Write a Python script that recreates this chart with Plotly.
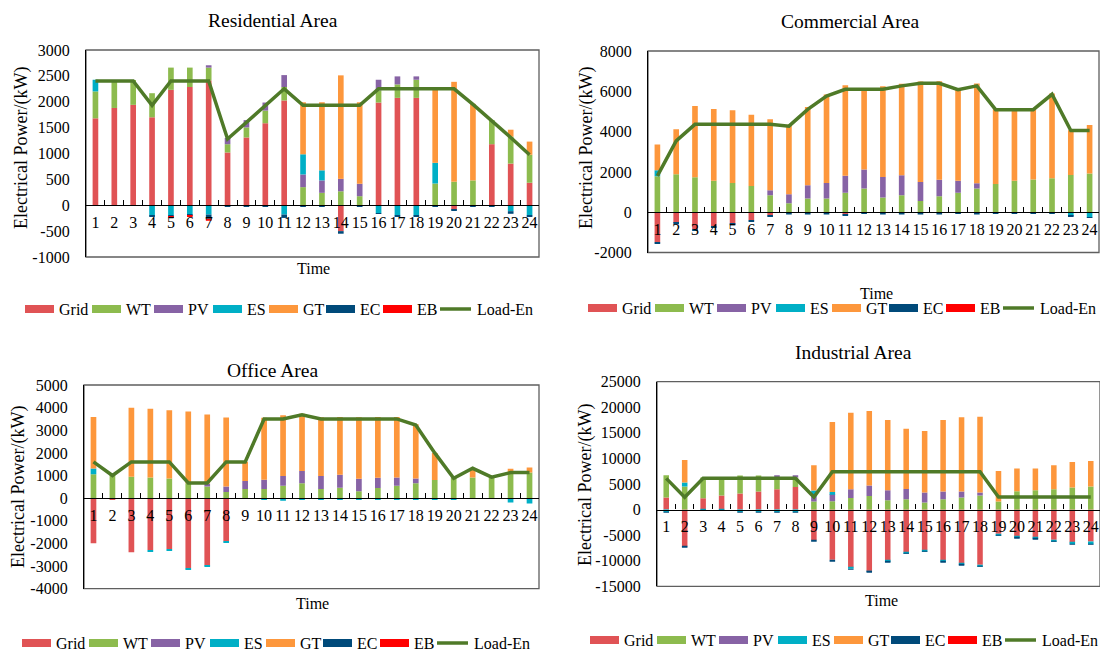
import plotly.graph_objects as go

W, H = 1100, 653

hours = [str(h) for h in range(1, 25)]
series_names = ["Grid", "WT", "PV", "ES", "GT", "EC", "EB"]
series_colors = ["#E05355", "#8DBB4E", "#8763A5", "#00AFC6", "#FD973C", "#004A7A", "#FF0000"]
load_name = "Load-En"
load_color = "#4F7A28"

# ---- Residential Area (kW) ----
res_grid = [1680, 1880, 1940, 1700, 2230, 2285, 2410, 1020, 1310, 1585, 2025, 0, 0, -500, 0, 1985, 2075, 2075, 0, -85, 0, 1180, 805, 435]
res_wt = [520, 540, 480, 465, 430, 375, 250, 160, 195, 245, 260, 350, 240, 270, 175, 235, 260, 350, 420, 455, 480, 465, 520, 540]
res_pv = [0, 0, 0, 0, 0, 0, 45, 120, 140, 155, 230, 245, 240, 240, 240, 205, 155, 65, 0, 0, 0, 0, 0, 0]
res_es = [225, 0, 0, -200, -190, -180, -180, 0, 0, 0, -180, 390, 195, 0, 0, -150, -195, -200, 400, 0, 0, 0, -115, -195]
res_gt = [0, 0, 0, 0, 0, 0, 0, 0, 0, 0, 0, 1005, 1315, 2000, 1575, 0, 0, 0, 1450, 1930, 1480, 0, 135, 255]
res_ec = [0, 0, 0, -10, -20, -20, -80, -20, -20, -20, -65, -30, -30, -50, -30, -15, -15, -10, -15, -10, -15, -25, -50, -20]
res_eb = [0, 0, 0, 0, -20, -20, -40, 0, 0, 0, 0, 0, 0, 0, 0, 0, 0, 0, 0, 0, 0, 0, 0, 0]
res_load = [2400, 2400, 2400, 1930, 2400, 2400, 2400, 1280, 1600, 1925, 2250, 1930, 1930, 1930, 1930, 2250, 2250, 2250, 2250, 2250, 1950, 1640, 1310, 975]

# ---- Commercial Area (kW) ----
com_grid = [-1490, -530, -860, -695, -580, -400, -150, 0, 0, 0, -110, 0, 0, 0, 0, 0, 0, 0, 0, 0, 0, 0, 0, 0]
com_wt = [1785, 1885, 1735, 1555, 1455, 1305, 845, 445, 680, 680, 960, 1175, 725, 845, 560, 795, 960, 1175, 1405, 1555, 1620, 1685, 1850, 1915]
com_pv = [0, 0, 0, 0, 0, 0, 250, 445, 660, 775, 845, 940, 1025, 990, 940, 810, 595, 265, 0, 0, 0, 0, 0, 0]
com_es = [300, 0, 0, 0, 0, 0, 0, 0, 0, 0, 0, 0, 0, 0, 0, 0, 0, 0, 0, 0, 0, 0, -180, -250]
com_gt = [1270, 2230, 3535, 3570, 3600, 3535, 3520, 3455, 3885, 4380, 4495, 4015, 4495, 4545, 4990, 4890, 4530, 4945, 3700, 3555, 3490, 4200, 2215, 2415]
com_ec = [-65, -65, -65, -65, -65, -65, -80, -115, -115, -115, -65, -80, -115, -115, -115, -115, -80, -115, -50, -65, -65, -80, -30, -20]
com_eb = [0] * 24
com_load = [1800, 3540, 4360, 4360, 4360, 4360, 4360, 4270, 5100, 5760, 6100, 6100, 6100, 6270, 6400, 6400, 6080, 6270, 5090, 5090, 5090, 5850, 4050, 4050]

# ---- Office Area (kW) ----
off_grid = [-1990, -60, -2390, -2290, -2250, -3100, -2970, -1900, 0, 0, -30, 0, 0, 0, 0, 0, 0, 0, 0, 0, 0, 0, 0, 0]
off_wt = [1060, 1050, 950, 910, 865, 655, 520, 270, 400, 400, 550, 655, 400, 460, 310, 445, 550, 655, 805, 910, 910, 910, 1130, 1130]
off_pv = [0, 0, 0, 0, 0, 0, 120, 240, 355, 415, 430, 550, 580, 580, 550, 460, 360, 210, 0, 0, 0, 0, 0, 0]
off_es = [250, 0, 0, -60, -60, -60, -60, -60, -20, -40, -80, -70, -40, -60, -60, -50, -40, -40, -50, -40, 0, -30, -190, -240]
off_gt = [2280, 0, 3040, 3040, 3020, 3175, 3060, 3050, 850, 2740, 2680, 2530, 2600, 2545, 2720, 2680, 2680, 2400, 1190, 0, 400, 0, 165, 225]
off_ec = [0] * 24
off_eb = [0] * 24
off_load = [1600, 1000, 1600, 1600, 1600, 670, 670, 1600, 1600, 3500, 3500, 3680, 3500, 3500, 3500, 3500, 3500, 3230, 2000, 880, 1320, 930, 1130, 1130]

# ---- Industrial Area (kW) ----
ind_grid = [2340, -7200, 2210, 2730, 3120, 3510, 3970, 4430, -6000, -9830, -11330, -12040, -9960, -8270, -7880, -9960, -10480, -10810, -4750, -5270, -5470, -5920, -6450, -6250]
ind_wt = [4360, 4490, 4040, 3520, 3520, 3130, 2280, 1820, 1560, 1630, 2280, 2670, 1820, 2020, 1370, 2020, 2340, 2730, 1560, 3580, 3780, 3970, 4300, 4490]
ind_pv = [0, 0, 0, 0, 0, 0, 450, 450, 980, 1430, 1690, 2020, 1950, 2020, 1950, 1500, 1170, 590, 0, 0, 0, 0, 0, 0]
ind_es = [-450, 780, -150, -150, -450, -450, -450, -450, 1170, 390, -260, -60, -200, -200, -200, -200, -260, -260, -260, -200, -200, -200, -260, -520]
ind_gt = [0, 4430, 0, 0, 0, 0, 0, 0, 4950, 13670, 14970, 14580, 13740, 11780, 12040, 14000, 14520, 14840, 5990, 4430, 4230, 4690, 5010, 5010]
ind_ec = [-130, -200, -50, -50, -130, -130, -130, -130, -150, -200, -60, -60, -60, -60, -60, -60, -60, -60, -60, -60, -60, -60, -60, -60]
ind_eb = [0] * 24
ind_load = [6100, 2400, 6100, 6100, 6100, 6100, 6100, 6100, 2450, 7400, 7400, 7400, 7400, 7400, 7400, 7400, 7400, 7400, 2450, 2450, 2450, 2450, 2450, 2450]

FONT = "Liberation Serif"

# legend key layout (pixel offsets of each key from the legend's left edge)
LEG_OFFSETS = [0, 67, 129, 188, 244, 301, 358, 415]
SWATCH_W, SWATCH_H, TEXT_GAP = 29, 8, 32

panels = [
    dict(title="Residential Area", series=[res_grid, res_wt, res_pv, res_es, res_gt, res_ec, res_eb], load=res_load,
         px=(86, 539), py=(50, 257), yr=(-1000, 3000), dt=500,
         title_xy=(273, 20), ytitle_xy=(21, 148), time_xy=(313, 269), legend_xy=(25, 309)),
    dict(title="Commercial Area", series=[com_grid, com_wt, com_pv, com_es, com_gt, com_ec, com_eb], load=com_load,
         px=(648, 1099), py=(51, 252.5), yr=(-2000, 8000), dt=2000,
         title_xy=(850, 21), ytitle_xy=(586, 148), time_xy=(876, 293), legend_xy=(588, 308)),
    dict(title="Office Area", series=[off_grid, off_wt, off_pv, off_es, off_gt, off_ec, off_eb], load=off_load,
         px=(84, 539), py=(385, 588.7), yr=(-4000, 5000), dt=1000,
         title_xy=(272, 370), ytitle_xy=(19, 487), time_xy=(312, 603), legend_xy=(22, 643)),
    dict(title="Industrial Area", series=[ind_grid, ind_wt, ind_pv, ind_es, ind_gt, ind_ec, ind_eb], load=ind_load,
         px=(657, 1100), py=(381.7, 586.3), yr=(-15000, 25000), dt=5000,
         title_xy=(853, 352), ytitle_xy=(585, 485), time_xy=(881, 600), legend_xy=(590, 640)),
]

fig = go.Figure()
layout = dict(
    width=W, height=H, margin=dict(l=0, r=0, t=0, b=0, autoexpand=False),
    paper_bgcolor="white", plot_bgcolor="white",
    barmode="relative", bargap=0.7,
    font=dict(family=FONT, size=16, color="black"),
    showlegend=False,
)
annotations = []
shapes = []


def px_x(v):
    return v / W


def px_y(v):
    return 1 - v / H


for i, p in enumerate(panels, start=1):
    sfx = "" if i == 1 else str(i)
    xa, ya = "x" + sfx, "y" + sfx

    xdom = [px_x(p["px"][0]), min(px_x(p["px"][1]), 1.0)]
    ydom = [px_y(p["py"][1]), px_y(p["py"][0])]
    y0, y1 = p["yr"]
    zero_pos = ydom[0] + (0 - y0) / (y1 - y0) * (ydom[1] - ydom[0])

    for name, color, vals in zip(series_names, series_colors, p["series"]):
        fig.add_trace(go.Bar(x=hours, y=vals, name=name, marker=dict(color=color, line=dict(width=0)),
                             xaxis=xa, yaxis=ya))
    fig.add_trace(go.Scatter(x=hours, y=p["load"], mode="lines", name=load_name,
                             line=dict(color=load_color, width=3.5), xaxis=xa, yaxis=ya))

    tickvals = list(range(y0, y1 + 1, p["dt"]))
    layout["xaxis" + sfx] = dict(
        type="category", domain=xdom, anchor="free", position=zero_pos,
        range=[-0.5, 23.5], showline=True, linecolor="black", linewidth=1.3,
        ticks="inside", ticklen=5, tickwidth=1, tickcolor="black", tickson="boundaries",
        tickmode="linear", tick0=0, dtick=1, tickangle=0,
        tickfont=dict(family=FONT, size=16), ticklabelstandoff=2,
        showgrid=False, zeroline=False, fixedrange=True,
    )
    layout["yaxis" + sfx] = dict(
        domain=ydom, anchor=xa, range=[y0, y1], showline=True, linecolor="black", linewidth=1.3,
        ticks="", tickvals=tickvals, ticktext=[str(v) for v in tickvals],
        tickfont=dict(family=FONT, size=16), ticklabelstandoff=12,
        showgrid=False, zeroline=False, fixedrange=True,
    )
    # plot-area frame
    shapes.append(dict(type="rect", xref=xa + " domain", yref=ya + " domain", x0=0, x1=1, y0=0, y1=1,
                       line=dict(color="#5f5f5f", width=1.3), layer="below"))

    # legend row under the panel
    lx, ly = p["legend_xy"]
    keys = list(zip(series_names, series_colors)) + [(load_name, load_color)]
    for k, (name, color) in enumerate(keys):
        kx = lx + LEG_OFFSETS[k]
        if name == load_name:
            shapes.append(dict(type="line", xref="paper", yref="paper",
                               x0=px_x(kx), x1=px_x(kx + SWATCH_W + 2), y0=px_y(ly), y1=px_y(ly),
                               line=dict(color=color, width=3.5)))
            tx = kx + TEXT_GAP + 3
        else:
            shapes.append(dict(type="rect", xref="paper", yref="paper",
                               x0=px_x(kx), x1=px_x(kx + SWATCH_W),
                               y0=px_y(ly + SWATCH_H / 2), y1=px_y(ly - SWATCH_H / 2),
                               fillcolor=color, line=dict(width=0)))
            tx = kx + TEXT_GAP
        annotations.append(dict(text=name, x=px_x(tx), y=px_y(ly), xref="paper", yref="paper",
                                xanchor="left", yanchor="middle", showarrow=False,
                                font=dict(family=FONT, size=16)))

    annotations.append(dict(text=p["title"], x=px_x(p["title_xy"][0]), y=px_y(p["title_xy"][1]),
                            xref="paper", yref="paper", xanchor="center", yanchor="middle",
                            showarrow=False, font=dict(family=FONT, size=19.5)))
    annotations.append(dict(text="Electrical Power/(kW)", x=px_x(p["ytitle_xy"][0]), y=px_y(p["ytitle_xy"][1]),
                            xref="paper", yref="paper", xanchor="center", yanchor="middle", textangle=-90,
                            showarrow=False, font=dict(family=FONT, size=18)))
    annotations.append(dict(text="Time", x=px_x(p["time_xy"][0]), y=px_y(p["time_xy"][1]),
                            xref="paper", yref="paper", xanchor="center", yanchor="middle",
                            showarrow=False, font=dict(family=FONT, size=16)))

layout["annotations"] = annotations
layout["shapes"] = shapes
fig.update_layout(**layout)

fig.write_html("out.html")
